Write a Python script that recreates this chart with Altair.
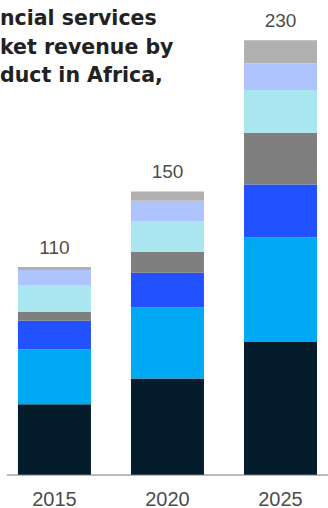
import altair as alt
import pandas as pd

years = ["2015", "2020", "2025"]
products = ["Product 1", "Product 2", "Product 3", "Product 4", "Product 5", "Product 6", "Product 7"]
colors = ["#051c2c", "#00a9f4", "#2251ff", "#7f7f7f", "#aae6f0", "#afc3ff", "#b0b0b0"]

# values per product, for 2015, 2020, 2025 (bottom to top)
p1 = [37.4, 51.0, 70.3]
p2 = [29.1, 37.6, 55.3]
p3 = [15.1, 18.4, 28.1]
p4 = [4.7, 11.0, 27.4]
p5 = [14.2, 16.3, 22.6]
p6 = [7.9, 10.8, 14.1]
p7 = [1.6, 4.9, 12.2]
totals = [110, 150, 230]

title_lines = ["ncial services", "ket revenue by", "duct in Africa,"]

series = [p1, p2, p3, p4, p5, p6, p7]
rows = []
for i, (name, vals) in enumerate(zip(products, series)):
    for y, v in zip(years, vals):
        rows.append({"year": y, "product": name, "value": v, "order": i})
df = pd.DataFrame(rows)
tot_df = pd.DataFrame({"year": years, "total": totals})

xenc = alt.X(
    "year:N",
    scale=alt.Scale(paddingInner=0.354, paddingOuter=0.128, align=0.62),
    axis=alt.Axis(
        title=None, domain=False, ticks=False, tickSize=0, labelPadding=30,
        labelBaseline="alphabetic", labelFont="Liberation Sans", labelFontSize=20,
        labelColor="#4d4d4d", labelAngle=0,
    ),
)

bars = alt.Chart(df).mark_bar().encode(
    x=xenc,
    y=alt.Y("value:Q", stack="zero", scale=alt.Scale(domain=[0, 251.3], nice=False), axis=None),
    color=alt.Color("product:N", scale=alt.Scale(domain=products, range=colors), legend=None),
    order=alt.Order("order:Q", sort="ascending"),
)

tot = alt.Chart(tot_df).mark_text(
    dy=-13, baseline="alphabetic", font="Liberation Sans", fontSize=19, color="#4d4d4d"
).encode(x="year:N", y=alt.Y("total:Q", axis=None), text="total:Q")

title_layers = []
for line, yb in zip(title_lines, [25, 53.5, 82]):
    title_layers.append(
        alt.Chart(alt.Data(values=[{"t": line}])).mark_text(
            align="left", baseline="alphabetic", font="DejaVu Sans", fontWeight="bold",
            fontSize=20.5, color="#222222"
        ).encode(x=alt.value(0), y=alt.value(yb), text="t:N")
    )

axis_rule = alt.Chart(alt.Data(values=[{"a": 1}])).mark_rule(color="#777777", strokeWidth=1).encode(
    x=alt.value(7), x2=alt.value(328), y=alt.value(475)
)

chart = alt.layer(bars, tot, axis_rule, *title_layers).properties(
    width=328, height=475,
    autosize=alt.AutoSizeParams(type="none"),
    padding={"left": 0, "right": 0, "top": 0, "bottom": 33},
    background="white",
).configure_view(strokeWidth=0, stroke=None)

chart.save("out.html", embed_options={"renderer": "svg", "actions": False})
